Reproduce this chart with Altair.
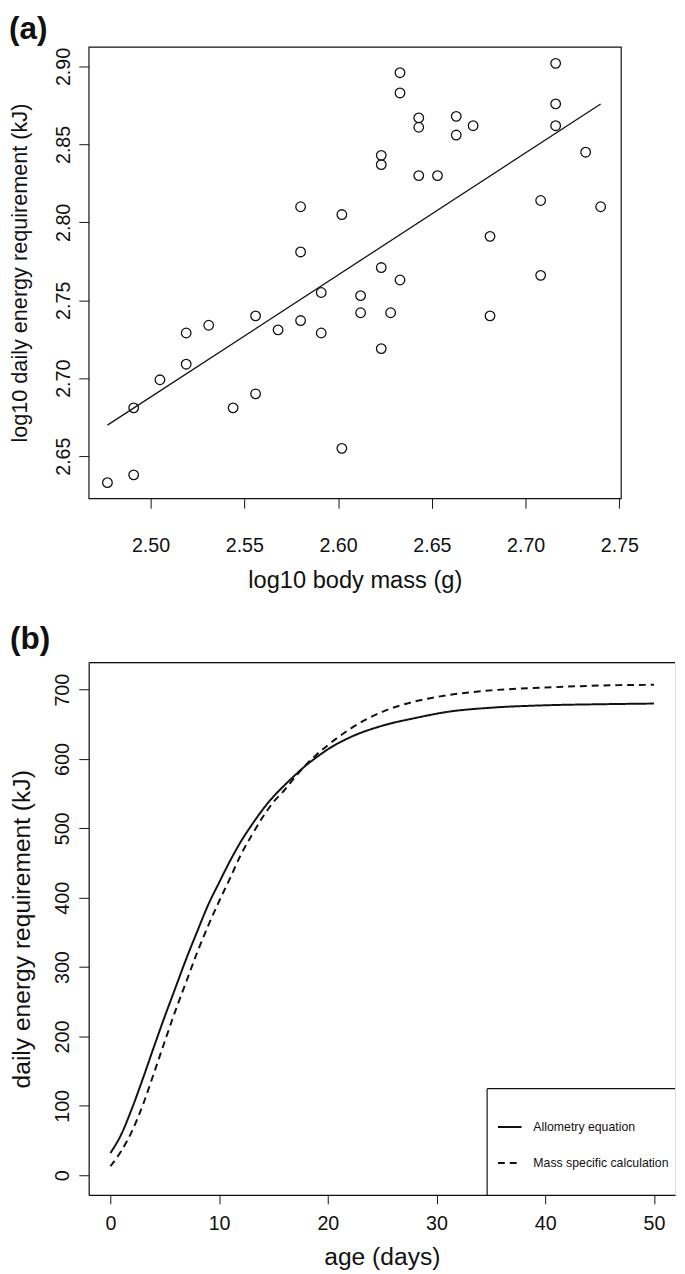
import altair as alt
import pandas as pd

# ---------- Panel (a): log10 body mass vs log10 daily energy requirement ----------
body_mass = [2.477, 2.491, 2.491, 2.505, 2.519, 2.519, 2.531, 2.544, 2.556, 2.556,
             2.568, 2.580, 2.580, 2.580, 2.591, 2.591, 2.602, 2.602, 2.612, 2.612,
             2.623, 2.623, 2.623, 2.623, 2.628, 2.633, 2.633, 2.633, 2.643, 2.643,
             2.643, 2.653, 2.663, 2.663, 2.672, 2.681, 2.681, 2.708, 2.708, 2.716,
             2.716, 2.716, 2.732, 2.740]
energy = [2.633, 2.638, 2.681, 2.699, 2.709, 2.729, 2.734, 2.681, 2.690, 2.740,
          2.731, 2.737, 2.781, 2.810, 2.755, 2.729, 2.655, 2.805, 2.753, 2.742,
          2.771, 2.719, 2.843, 2.837, 2.742, 2.763, 2.896, 2.883, 2.867, 2.861,
          2.830, 2.830, 2.868, 2.856, 2.862, 2.791, 2.740, 2.814, 2.766, 2.902,
          2.876, 2.862, 2.845, 2.810]
x_ticks_a = [2.50, 2.55, 2.60, 2.65, 2.70, 2.75]
y_ticks_a = [2.65, 2.70, 2.75, 2.80, 2.85, 2.90]

# ---------- Panel (b): daily energy requirement vs age ----------
age_days = [0, 1, 2, 3, 4, 5, 6, 7, 8, 9, 10, 11, 12, 13, 14, 15, 16, 17, 18, 19,
            20, 22, 25, 28, 31, 35, 40, 45, 50]
allometry = [32, 59, 97, 140, 185, 229, 271, 313, 352, 390, 422, 453, 481, 505, 527,
             546, 562, 577, 591, 603, 614, 631, 648, 659, 668, 674, 677.5, 679, 680]
mass_specific = [13, 35, 64, 102, 147, 193, 238, 280, 322, 360, 395, 428, 462, 490, 516,
                 538, 555, 574, 592, 607, 620, 643, 668, 683, 692, 699, 703, 706, 707]
series_names = ["Allometry equation", "Mass specific calculation"]
x_ticks_b = [0, 10, 20, 30, 40, 50]
y_ticks_b = [0, 100, 200, 300, 400, 500, 600, 700]

FONT = "Liberation Sans"
INK = "#111111"

# ---------------- top chart ----------------
df_a = pd.DataFrame({"mass": body_mass, "energy": energy})

xa = alt.X("mass:Q",
           scale=alt.Scale(domain=[2.4670, 2.7508], nice=False, zero=False),
           axis=alt.Axis(values=x_ticks_a, format=".2f", title="log10 body mass (g)",
                         labelFontSize=20, titleFontSize=24, tickSize=10,
                         labelPadding=28, titlePadding=14, domain=False, grid=False,
                         tickColor=INK, labelColor=INK, titleColor=INK,
                         titleFontWeight="normal", labelFont=FONT, titleFont=FONT))
ya = alt.Y("energy:Q",
           scale=alt.Scale(domain=[2.6229, 2.9126], nice=False, zero=False),
           axis=alt.Axis(values=y_ticks_a, format=".2f",
                         title="log10 daily energy requirement (kJ)",
                         labelAngle=270, labelAlign="center", labelBaseline="alphabetic",
                         labelFontSize=20, titleFontSize=22, tickSize=10,
                         labelPadding=9, titlePadding=23, domain=False, grid=False,
                         tickColor=INK, labelColor=INK, titleColor=INK,
                         titleFontWeight="normal", labelFont=FONT, titleFont=FONT))

pts = alt.Chart(df_a).mark_point(shape="circle", filled=False, color=INK,
                                 size=95, strokeWidth=1.3, opacity=1).encode(x=xa, y=ya)
reg = (alt.Chart(df_a)
       .transform_regression("mass", "energy")
       .mark_line(color=INK, strokeWidth=1.3)
       .encode(x="mass:Q", y="energy:Q"))

top = alt.layer(pts, reg).properties(
    width=541, height=459,
    view=alt.ViewBackground(stroke=INK, strokeWidth=1.2),
    title=alt.TitleParams("(a)", anchor="start", frame="bounds", fontSize=32,
                          fontWeight="bold", font=FONT, color=INK, offset=1),
)

# ---------------- bottom chart ----------------
rows = []
for d, v in zip(age_days, allometry):
    rows.append({"age": d, "kj": v, "series": series_names[0]})
for d, v in zip(age_days, mass_specific):
    rows.append({"age": d, "kj": v, "series": series_names[1]})
df_b = pd.DataFrame(rows)

W_B, H_B = 596, 541

xb = alt.X("age:Q",
           scale=alt.Scale(domain=[-2, 51.94], nice=False, zero=False),
           axis=alt.Axis(values=x_ticks_b, format="d", title="age (days)",
                         labelFontSize=20, titleFontSize=25, tickSize=9,
                         labelPadding=10, titlePadding=12, domain=True, domainColor=INK,
                         domainWidth=1.2, grid=False,
                         tickColor=INK, labelColor=INK, titleColor=INK,
                         titleFontWeight="normal", labelFont=FONT, titleFont=FONT))
yb = alt.Y("kj:Q",
           scale=alt.Scale(domain=[-28.4, 738.9], nice=False, zero=False),
           axis=alt.Axis(values=y_ticks_b, format="d",
                         title="daily energy requirement (kJ)",
                         labelAngle=270, labelAlign="center", labelBaseline="alphabetic",
                         labelFontSize=20, titleFontSize=25, tickSize=10,
                         labelPadding=10, titlePadding=19, domain=True, domainColor=INK,
                         domainWidth=1.2, grid=False,
                         tickColor=INK, labelColor=INK, titleColor=INK,
                         titleFontWeight="normal", labelFont=FONT, titleFont=FONT))

lines = alt.Chart(df_b).mark_line(color=INK, strokeWidth=2, interpolate="monotone").encode(
    x=xb, y=yb,
    strokeDash=alt.StrokeDash(
        "series:N",
        scale=alt.Scale(domain=series_names, range=[[1, 0], [7, 5]]),
        legend=alt.Legend(title=None, orient="none", legendX=415, legendY=1085,
                          symbolType="stroke", symbolSize=576, symbolStrokeWidth=2,
                          symbolStrokeColor=INK, labelFontSize=12.5, labelFont=FONT,
                          labelColor=INK, labelOffset=11, rowPadding=16.5, padding=0),
    ),
)

one = pd.DataFrame({"k": [0]})
frame_top = alt.Chart(one).mark_rule(color=INK, strokeWidth=1.2).encode(
    x=alt.value(0), x2=alt.value(W_B), y=alt.value(0))
box_left = alt.Chart(one).mark_rule(color=INK, strokeWidth=1.2).encode(
    x=alt.value(405), y=alt.value(433), y2=alt.value(H_B))
box_top = alt.Chart(one).mark_rule(color=INK, strokeWidth=1.2).encode(
    x=alt.value(405), x2=alt.value(W_B), y=alt.value(433))

bottom = alt.layer(lines, frame_top, box_left, box_top).properties(
    width=W_B, height=H_B,
    title=alt.TitleParams("(b)", anchor="start", frame="bounds", fontSize=32,
                          fontWeight="bold", font=FONT, color=INK, offset=6),
)

chart = (alt.vconcat(top, bottom, spacing=29)
         .properties(padding={"left": 0, "top": -6, "right": 0, "bottom": 0})
         .configure_view(stroke=None)
         .configure(font=FONT))

chart.save("out.html", embed_options={"renderer": "svg", "actions": False})
